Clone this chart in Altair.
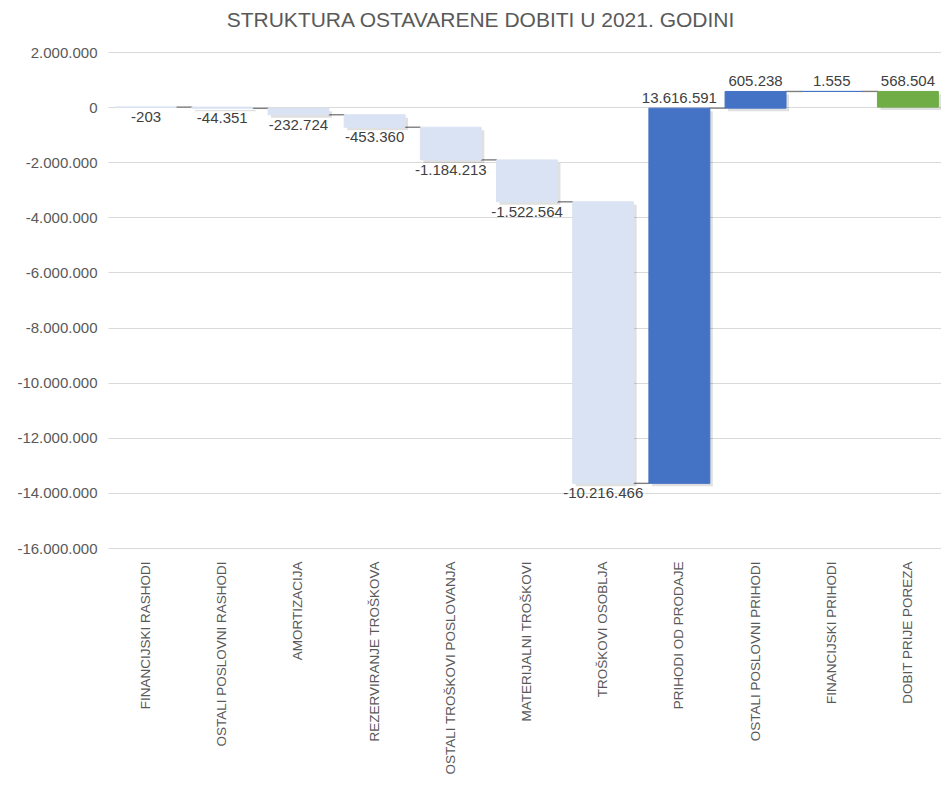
import altair as alt
import pandas as pd

categories = [
    "FINANCIJSKI RASHODI", "OSTALI POSLOVNI RASHODI", "AMORTIZACIJA",
    "REZERVIRANJE TROŠKOVA", "OSTALI TROŠKOVI POSLOVANJA", "MATERIJALNI TROŠKOVI",
    "TROŠKOVI OSOBLJA", "PRIHODI OD PRODAJE", "OSTALI POSLOVNI PRIHODI",
    "FINANCIJSKI PRIHODI", "DOBIT PRIJE POREZA",
]
values = [-203, -44351, -232724, -453360, -1184213, -1522564, -10216466,
          13616591, 605238, 1555, 568504]
kinds = ["dec"] * 7 + ["inc"] * 3 + ["total"]
y_ticks = [-16000000, -14000000, -12000000, -10000000, -8000000, -6000000,
           -4000000, -2000000, 0, 2000000]
kind_colors = {"dec": "#DAE3F3", "inc": "#4472C4", "total": "#70AD47"}


def fmt(v):
    s = f"{abs(v):,}".replace(",", ".")
    return ("-" if v < 0 else "") + s


rows = []
running = 0
for i, (c, v, k) in enumerate(zip(categories, values, kinds)):
    if k == "total":
        start, end = 0, v
    else:
        start, end = running, running + v
        running = end
    rows.append({
        "cat": c, "start": start, "end": end, "kind": k,
        "label": fmt(v),
        "lo": min(start, end), "hi": max(start, end),
        "next": categories[i + 1] if i + 1 < len(categories) else None,
    })
df = pd.DataFrame(rows)

FONT = "Liberation Sans"
xsc = alt.Scale(domain=categories, paddingInner=0.2, paddingOuter=0.1, range=[0, 838])
ysc = alt.Scale(domain=[-16000000, 2000000], nice=False)
csc = alt.Scale(domain=list(kind_colors.keys()), range=list(kind_colors.values()))

base = alt.Chart(df)

connectors = base.transform_filter("datum.next != null").mark_rule(
    color="#7F7F7F", strokeWidth=1.4, xOffset=30, x2Offset=-30
).encode(
    x=alt.X("cat:N", scale=xsc, sort=categories),
    x2="next:N",
    y=alt.Y("end:Q", scale=ysc),
)

shadow = base.mark_bar(color="#000000", opacity=0.12, xOffset=3, yOffset=3, y2Offset=3).encode(
    x=alt.X("cat:N", scale=xsc, sort=categories),
    y=alt.Y("start:Q", scale=ysc),
    y2="end:Q",
)

bars = base.mark_bar(strokeWidth=1).encode(
    x=alt.X("cat:N", scale=xsc, sort=categories,
            axis=alt.Axis(title=None, labelAngle=-90, labelFontSize=13.5,
                          labelColor="#595959", labelFont=FONT, domain=False,
                          ticks=False, labelPadding=13, labelLimit=400)),
    y=alt.Y("start:Q", scale=ysc,
            axis=alt.Axis(title=None, values=y_ticks, grid=True, gridColor="#D9D9D9",
                          domain=False, ticks=False, labelFontSize=15,
                          labelColor="#595959", labelFont=FONT, labelPadding=11,
                          labelExpr="(datum.value < 0 ? '-' : '') + replace(format(abs(datum.value), ',.0f'), /,/g, '.')")),
    y2="end:Q",
    color=alt.Color("kind:N", scale=csc, legend=None),
    stroke=alt.Stroke("kind:N", scale=csc, legend=None),
)

labels_dec = base.transform_filter("datum.kind == 'dec'").mark_text(
    baseline="top", dy=3, fontSize=15, color="#404040", font=FONT
).encode(
    x=alt.X("cat:N", scale=xsc, sort=categories),
    y=alt.Y("lo:Q", scale=ysc),
    text="label:N",
)

labels_inc = base.transform_filter("datum.kind != 'dec'").mark_text(
    baseline="bottom", dy=-2, fontSize=15, color="#404040", font=FONT
).encode(
    x=alt.X("cat:N", scale=xsc, sort=categories),
    y=alt.Y("hi:Q", scale=ysc),
    text="label:N",
)

chart = alt.layer(connectors, shadow, bars, labels_dec, labels_inc).properties(
    width=833, height=496,
    autosize=alt.AutoSizeParams(type="none"),
    padding={"left": 100, "top": 44, "right": 0, "bottom": 226},
    title=alt.TitleParams(
        "STRUKTURA OSTAVARENE DOBITI U 2021. GODINI",
        fontSize=21, font=FONT, fontWeight="normal", color="#595959",
        anchor="middle", frame="group", dx=-44, offset=14,
    ),
).configure_view(stroke=None)

chart.save("out.html", embed_options={"renderer": "svg", "actions": False})
